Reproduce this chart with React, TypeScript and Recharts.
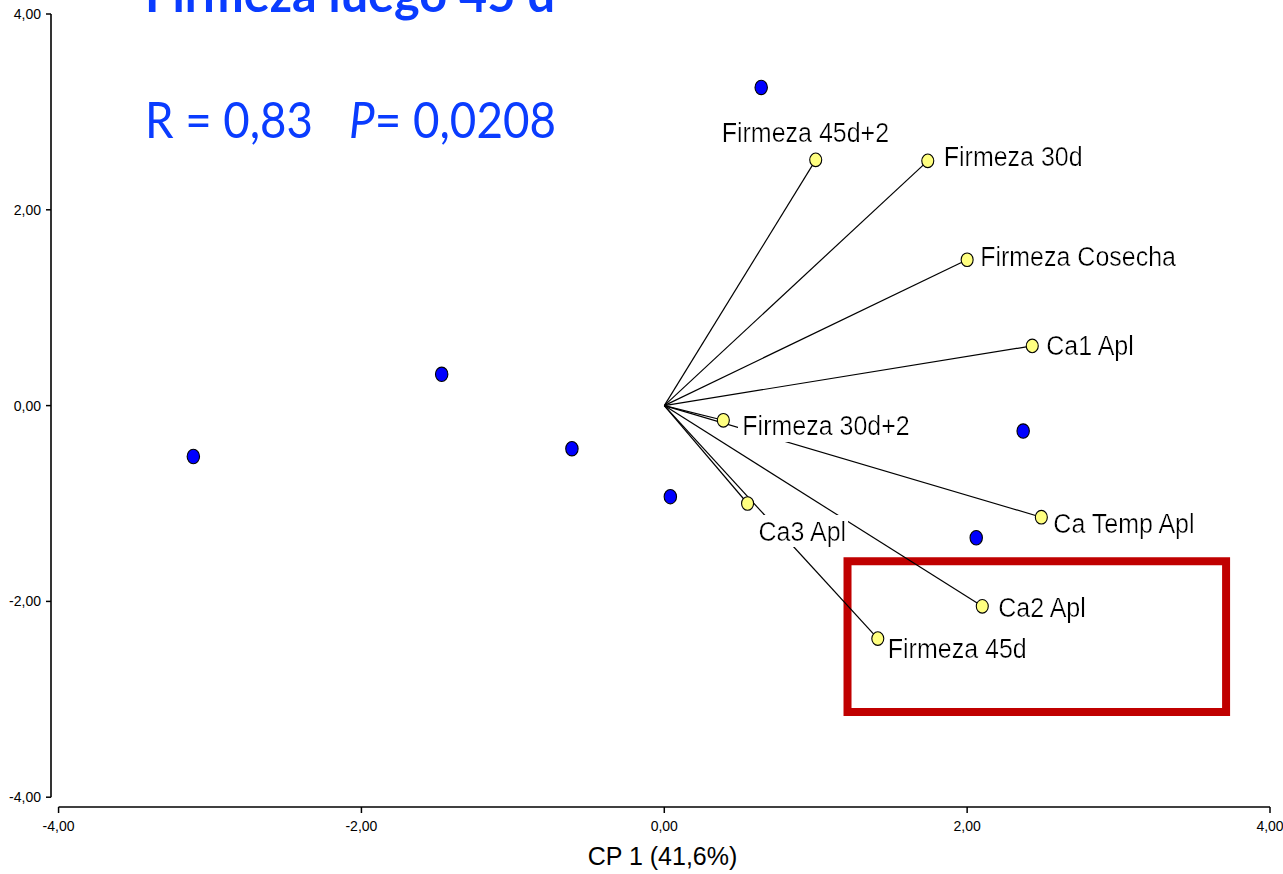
import React from 'react';
import { ScatterChart, Scatter, XAxis, YAxis, ReferenceLine, ReferenceArea } from 'recharts';

// Object scores on CP1 / CP2
const scoreX = [-3.11, -1.47, -0.61, 0.04, 0.64, 2.37, 2.06];
const scoreY = [-0.52, 0.32, -0.44, -0.93, 3.25, -0.26, -1.35];

// Variable loadings (vectors from the origin)
const variableNames = [
  'Firmeza 45d+2',
  'Firmeza 30d',
  'Firmeza Cosecha',
  'Ca1 Apl',
  'Firmeza 30d+2',
  'Ca Temp Apl',
  'Ca3 Apl',
  'Ca2 Apl',
  'Firmeza 45d',
];
const loadingX = [1.0, 1.74, 2.0, 2.43, 0.39, 2.49, 0.55, 2.1, 1.41];
const loadingY = [2.51, 2.5, 1.49, 0.61, -0.15, -1.14, -1.0, -2.05, -2.38];

const axisTicks = [-4, -2, 0, 2, 4];

// Highlighted region (data units)
const highlightX = [1.21, 3.71];
const highlightY = [-3.13, -1.59];

// Axis frame: lines are drawn slightly offset from the tick range
const X_MIN = -4.05;
const Y_MIN = -4.1;

// Label placement relative to each vector tip (px: left edge, baseline)
const labelOffsets: Record<string, [number, number]> = {
  'Firmeza 45d+2': [-94, -18],
  'Firmeza 30d': [16, 5],
  'Firmeza Cosecha': [13, 6],
  'Ca1 Apl': [14, 9],
  'Firmeza 30d+2': [19, 15],
  'Ca Temp Apl': [12, 16],
  'Ca3 Apl': [11, 37],
  'Ca2 Apl': [16, 11],
  'Firmeza 45d': [10, 19],
};

const scores = scoreX.map((x, i) => ({ x, y: scoreY[i] }));
const loadings = variableNames.map((name, i) => ({ name, x: loadingX[i], y: loadingY[i] }));

const fmt = (v: number) => v.toFixed(2).replace('.', ',');
const ARIAL = "'Liberation Sans', Arial, sans-serif";

const ScoreDot = (p: any) => (
  <ellipse cx={p.cx} cy={p.cy} rx={6.2} ry={7.2} fill="#0000FF" stroke="#000" strokeWidth={1.1} />
);

const LoadingDot = (p: any) => {
  const name = p.payload?.name ?? '';
  const [dx, dy] = labelOffsets[name] ?? [12, 8];
  const tx = p.cx + dx;
  const ty = p.cy + dy;
  return (
    <g>
      <g transform={`translate(${tx},${ty}) scale(1,1.12)`}>
        <text x={0} y={0} fontSize={25} fontFamily={ARIAL} fill="#000" filter="url(#labelBg)">
          {name}
        </text>
      </g>
      <ellipse cx={p.cx} cy={p.cy} rx={6} ry={6.8} fill="#FFFF80" stroke="#000" strokeWidth={1.1} />
    </g>
  );
};

const NoDot = () => <g />;

export default function App() {
  const tickStyle = { fill: '#000', fontSize: 14, fontFamily: ARIAL };
  return (
    <div style={{ position: 'absolute', left: 0, top: 0, width: 1283, height: 874, background: '#fff' }}>
      <ScatterChart width={1283} height={874} margin={{ top: 14, right: 13, bottom: 7, left: 1 }}>
        <XAxis
          type="number"
          dataKey="x"
          domain={[X_MIN, 4]}
          ticks={axisTicks}
          tickFormatter={fmt}
          allowDataOverflow
          axisLine={false}
          tickLine={{ stroke: '#000', strokeWidth: 1.5 }}
          tickSize={6}
          tickMargin={8}
          tick={tickStyle}
          height={60}
          label={{ value: 'CP 1 (41,6%)', position: 'insideBottom', offset: 2, fill: '#000', fontSize: 25, fontFamily: ARIAL, dx: 2 }}
        />
        <YAxis
          type="number"
          dataKey="y"
          domain={[Y_MIN, 4]}
          ticks={axisTicks}
          tickFormatter={fmt}
          allowDataOverflow
          axisLine={false}
          tickLine={{ stroke: '#000', strokeWidth: 1.5 }}
          tickSize={5}
          tickMargin={5}
          tick={tickStyle}
          width={50}
        />
        <ReferenceLine
          segment={[{ x: -4, y: Y_MIN }, { x: 4, y: Y_MIN }]}
          stroke="#000"
          strokeWidth={1.6}
          ifOverflow="visible"
        />
        <ReferenceLine
          segment={[{ x: X_MIN, y: -4 }, { x: X_MIN, y: 4 }]}
          stroke="#000"
          strokeWidth={1.6}
          ifOverflow="visible"
        />
        {loadings.map((d, i) => (
          <Scatter
            key={`vec-${i}`}
            data={[{ x: 0, y: 0 }, { x: d.x, y: d.y }]}
            line={{ stroke: '#000', strokeWidth: 1.2 }}
            shape={NoDot}
            legendType="none"
            isAnimationActive={false}
          />
        ))}
        <Scatter data={scores} shape={ScoreDot} isAnimationActive={false} />
        <Scatter data={loadings} shape={LoadingDot} isAnimationActive={false} />
        <ReferenceArea
          x1={highlightX[0]}
          x2={highlightX[1]}
          y1={highlightY[0]}
          y2={highlightY[1]}
          fill="none"
          fillOpacity={0}
          stroke="#C00000"
          strokeWidth={8}
          ifOverflow="visible"
        />
      </ScatterChart>
      <svg
        width={1283}
        height={874}
        style={{ position: 'absolute', left: 0, top: 0, pointerEvents: 'none', overflow: 'hidden' }}
      >
        <defs>
          <filter id="labelBg" x="-0.02" y="0" width="1.04" height="1">
            <feFlood floodColor="#fff" />
            <feComposite in="SourceGraphic" operator="over" />
          </filter>
        </defs>
        <g fill="#0A3CFF" fontFamily="Lato, 'Open Sans', sans-serif">
          <text x={145} y={12} fontSize={50} fontWeight={700} textLength={410} lengthAdjust="spacingAndGlyphs">
            Firmeza luego 45 d
          </text>
          <text x={145} y={138} fontSize={51} textLength={168} lengthAdjust="spacingAndGlyphs">
            R = 0,83
          </text>
          <text x={349} y={138} fontSize={51} textLength={207} lengthAdjust="spacingAndGlyphs">
            <tspan fontStyle="italic">P</tspan>
            <tspan>= 0,0208</tspan>
          </text>
        </g>
      </svg>
    </div>
  );
}
